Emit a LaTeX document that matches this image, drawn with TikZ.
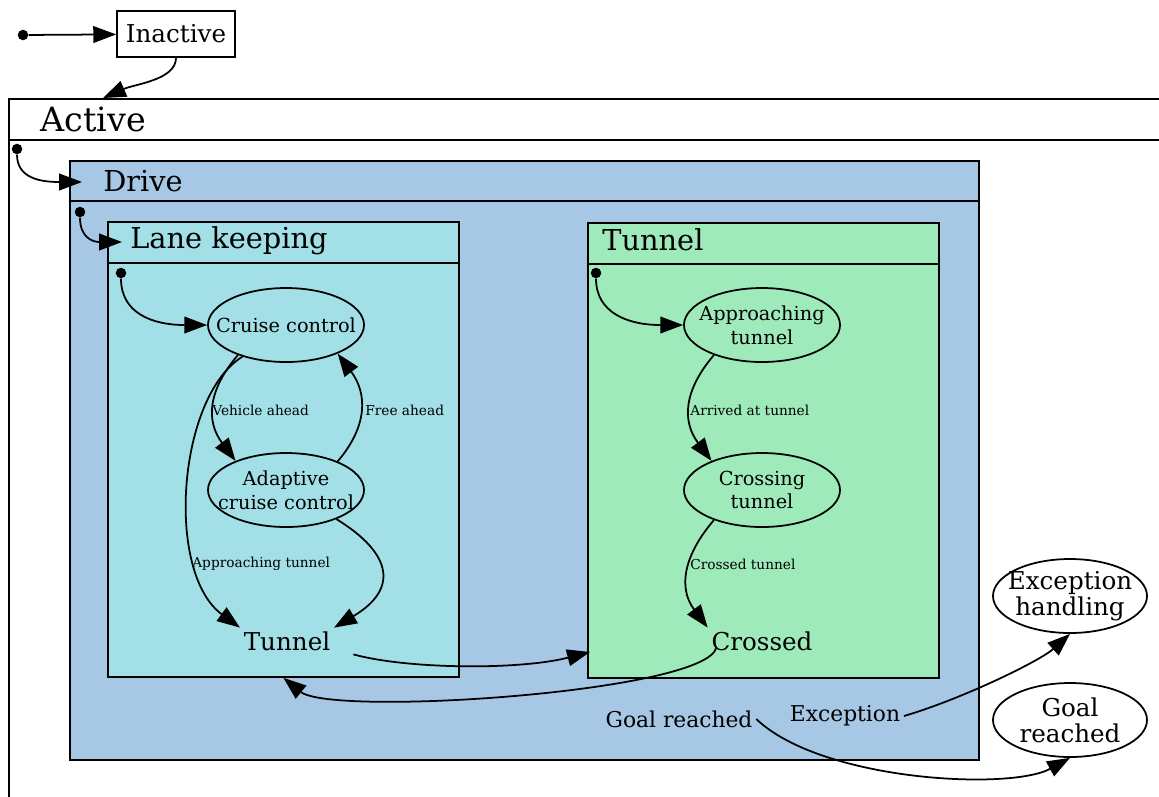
\documentclass[tikz,border=0pt]{standalone}
\usepackage{fontspec}
\setmainfont{DejaVu Serif}
\usetikzlibrary{arrows.meta,shapes.geometric}
\definecolor{drivefill}{RGB}{166,200,228}
\definecolor{lanefill}{RGB}{162,223,230}
\definecolor{tunnelfill}{RGB}{158,234,187}
\def\pxl{0.02cm}

\begin{document}
\begin{tikzpicture}[x=0.02cm, y=-0.02cm,
    cbox/.style={draw, line width=1pt, rectangle, anchor=north west, inner sep=0},
    hdr/.style={anchor=west, inner sep=0, font=\fontsize{16.4}{19}\selectfont},
    plaintext/.style={inner sep=2pt, font=\fontsize{14}{17}\selectfont},
    smalltext/.style={inner sep=2pt, font=\fontsize{12.4}{15}\selectfont},
    stnode/.style={ellipse, draw, line width=1pt, inner xsep=-10pt, inner ysep=-3pt, align=center,
        minimum width=156*\pxl, minimum height=74*\pxl, font=\fontsize{11}{13.5}\selectfont},
    bigstate/.style={stnode, minimum width=154*\pxl, font=\fontsize{14}{15}\selectfont},
    lbl/.style={anchor=west, inner sep=0, font=\fontsize{7.8}{9}\selectfont},
    trans/.style={-{Triangle[length=13pt,width=9.5pt]}, line width=1pt},
    initdot/.style={fill, circle, inner sep=0, minimum size=6pt}]
    \useasboundingbox (0,0) rectangle (1159,796);
    \clip (0,0) rectangle (1159,796);

    \node[initdot] (ini0) at (23,35) {};
    \node[draw, line width=1pt, plaintext, minimum width=118*\pxl, minimum height=46*\pxl] (inactive) at (176,34) {Inactive};
    \draw[trans] (ini0) -- (inactive);

    \node[cbox, minimum width=1200*\pxl, minimum height=760*\pxl] (activebox) at (8,98) {};
    \draw[line width=1pt] (activebox.north west) ++(0,42) -- ++(1200,0);
    \node[hdr, font=\fontsize{19}{22}\selectfont] (activetitle) at (40,119) {Active};
    \coordinate (activein) at (103,98);
    \draw[trans] (inactive.south) .. controls +(0,22) and +(32,-14) .. (activein);

    \node[cbox, fill=drivefill, minimum width=909*\pxl, minimum height=599*\pxl] (drivebox) at (69,160) {};
    \draw[line width=1pt] (drivebox.north west) ++(0,41) -- ++(909,0);
    \node[hdr] (drivetitle) at (103,181) {Drive};
    \node[initdot] (ini1) at (17,149) {};
    \coordinate (drivein) at (82,182);
    \draw[trans] (ini1) .. controls +(0,30) and +(-40,0) .. (drivein);

    \node[cbox, fill=lanefill, minimum width=351*\pxl, minimum height=455*\pxl] (lkbox) at (107,221) {};
    \draw[line width=1pt] (lkbox.north west) ++(0,42) -- ++(351,0);
    \node[hdr] (lktitle) at (130,241) {Lane keeping};
    \node[initdot] (ini2) at (80,212) {};
    \coordinate (lkin) at (122,242);
    \draw[trans] (ini2) .. controls +(0,25) and +(-30,0) .. (lkin);

    \node[cbox, fill=tunnelfill, minimum width=351*\pxl, minimum height=455*\pxl] (tunnelbox) at (587,222) {};
    \draw[line width=1pt] (tunnelbox.north west) ++(0,42) -- ++(351,0);
    \node[hdr] (tunneltitle) at (602,240) {Tunnel};

    \node[initdot] (ini3) at (121,273) {};
    \node[stnode] (cruise) at (286,325) {Cruise control};
    \node[stnode] (adaptive) at (286,490) {Adaptive\\cruise control};
    \node[plaintext] (lktunnel) at (287,641) {Tunnel};
    \draw[trans] (ini3) .. controls +(0,40) and +(-55,0) .. (cruise.west);
    \draw[trans] (cruise.212) .. controls +(-30,35) and +(-30,-40) .. (adaptive.150);
    \draw[trans] (adaptive.29) .. controls +(30,-35) and +(30,40) .. (cruise.-29);
    \draw[trans] (cruise.216) .. controls +(-65,40) and +(-75,-55) .. (lktunnel.north west);
    \draw[trans] (adaptive.-30) .. controls +(57,35) and +(64,-38) .. (lktunnel.north east);
    \node[lbl] (lblvehicle) at (212,410) {Vehicle ahead};
    \node[lbl] (lblfree) at (365,410) {Free ahead};
    \node[lbl] (lblapproach) at (192,564) {Approaching tunnel};

    \node[initdot] (ini4) at (596,273) {};
    \node[stnode] (approach) at (762,325) {Approaching\\tunnel};
    \node[stnode] (crossing) at (762,490) {Crossing\\tunnel};
    \node[plaintext] (crossed) at (762,641) {Crossed};
    \draw[trans] (ini4) .. controls +(0,40) and +(-55,0) .. (approach.west);
    \draw[trans] (approach.212) .. controls +(-30,35) and +(-30,-40) .. (crossing.150);
    \draw[trans] (crossing.212) .. controls +(-30,35) and +(-30,-40) .. (crossed.north west);
    \node[lbl] (lblarrived) at (690,410) {Arrived at tunnel};
    \node[lbl] (lblcrossed) at (690,564) {Crossed tunnel};

    \coordinate (tunnelin) at (590,652);
    \draw[trans] ([xshift=11pt]lktunnel.south east) .. controls +(55,15) and +(-70,18) .. (tunnelin);
    \draw[trans] ([xshift=5pt,yshift=4pt]crossed.south west) .. controls +(-10,45) and +(48,39) .. (lkbox.south);

    \node[smalltext] (goaltext) at (679,719) {Goal reached};
    \node[smalltext] (excepttext) at (845,716) {Exception};
    \node[bigstate] (exchandling) at (1070,596) {Exception\\handling};
    \node[bigstate] (goalstate) at (1070,720) {Goal\\reached};
    \draw[trans] (excepttext.east) .. controls +(58,-17) and +(-30,27) .. (exchandling.south);
    \draw[trans] (goaltext.east) .. controls +(65,62) and +(-60,33) .. (goalstate.south);
\end{tikzpicture}
\end{document}
